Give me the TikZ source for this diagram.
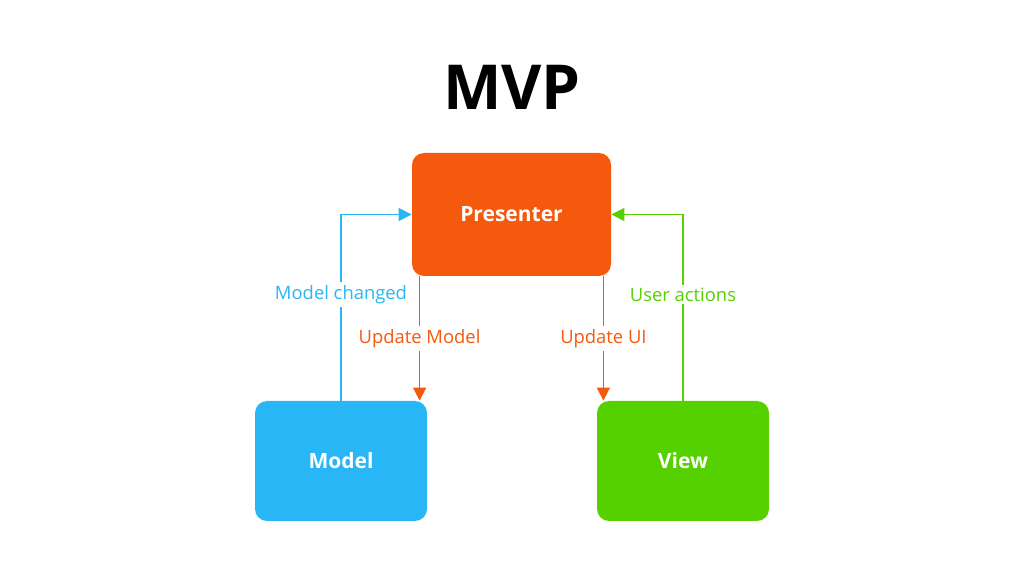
\documentclass[tikz,border=0pt]{standalone}
\usepackage{fontspec}
\setmainfont{Open Sans}
\usetikzlibrary{arrows.meta,positioning,calc}
\definecolor{orng}{HTML}{F4590E}
\definecolor{blau}{HTML}{29B6F6}
\definecolor{gruen}{HTML}{56D100}
\tikzset{
  box/.style={rounded corners=6pt,text=white,inner sep=0pt,font=\bfseries\fontsize{10.5}{13}\selectfont},
  pfeil/.style={-{Triangle[length=6.5pt,width=6.5pt]},line width=0.75pt},
  lbl/.style={fill=white,inner sep=1.5pt,font=\fontsize{9.2}{11}\selectfont},
}
\begin{document}
\begin{tikzpicture}[x=0.5pt,y=-0.5pt]
  \useasboundingbox (0,0) rectangle (1024,577);
  \node[font=\bfseries\fontsize{31}{36}\selectfont] (titel) at (512,87) {MVP};
  \node[box,fill=orng,minimum width=99.5pt,minimum height=61.5pt] (pres) at (511.5,214.5) {Presenter};
  \node[box,fill=blau,minimum width=86pt,minimum height=60pt] (model) at (341,461) {Model};
  \node[box,fill=gruen,minimum width=86pt,minimum height=60pt] (view) at (683,461) {View};
  % Rueckmeldungen an den Presenter
  \draw[pfeil,blau] (model.north) |- node[lbl,pos=0.285]{Model changed} (pres.west);
  \draw[pfeil,gruen] (view.north) |- node[lbl,pos=0.285]{User actions} (pres.east);
  % Aktualisierungen vom Presenter
  \draw[pfeil,orng] ([xshift=4pt]pres.south west) -- node[lbl]{Update Model} ([xshift=4pt]pres.south west |- model.north);
  \draw[pfeil,orng] ([xshift=-4pt]pres.south east) -- node[lbl]{Update UI} ([xshift=-4pt]pres.south east |- view.north);
\end{tikzpicture}
\end{document}
